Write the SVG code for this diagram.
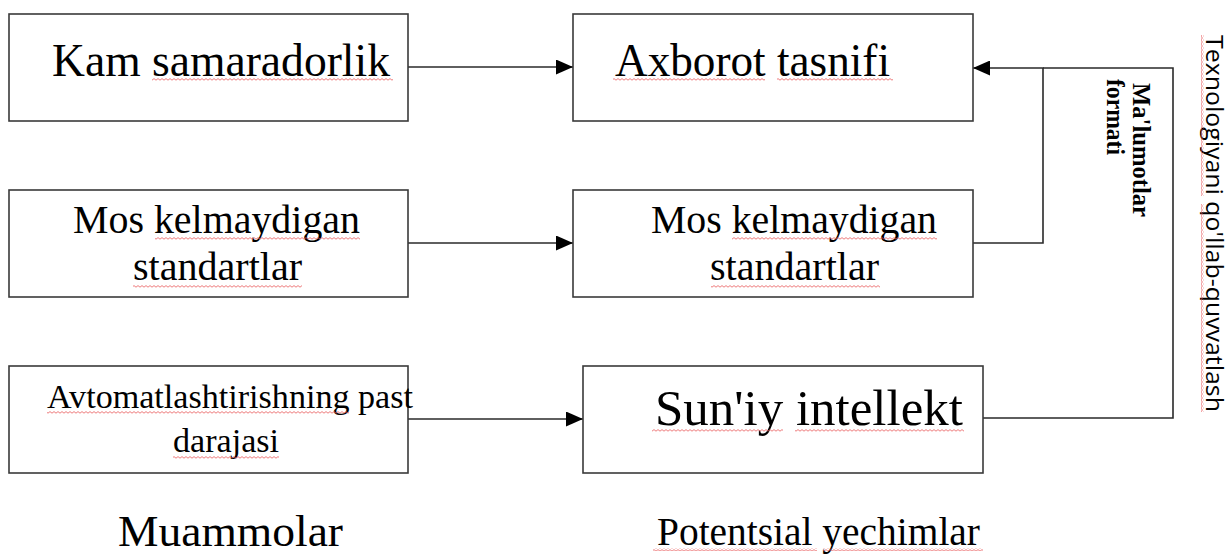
<svg xmlns="http://www.w3.org/2000/svg" width="1230" height="556" viewBox="0 0 1230 556">
<defs>
<style>
.box{fill:#fff;stroke:#3a3a3a;stroke-width:1.6}
.t{font-family:"Liberation Serif","Times New Roman",serif;fill:#000}
.b{font-weight:bold}
.s{font-family:"Open Sans","Liberation Sans",sans-serif;fill:#000}
.ln{fill:none;stroke:#2a2a2a;stroke-width:1.6}
.sqh{fill:url(#sqh)}
.sqv{fill:url(#sqv)}
</style>
<marker id="ah" markerUnits="userSpaceOnUse" viewBox="0 0 17 15" markerWidth="17" markerHeight="15" refX="17" refY="7.5" orient="auto"><path d="M0,0 L17,7.5 L0,15 z" fill="#000"/></marker>
<pattern id="sqh" width="4" height="3" patternUnits="userSpaceOnUse"><path d="M0,2.2 L2,0.6 L4,2.2" fill="none" stroke="#e8595b" stroke-width="0.8"/></pattern>
<pattern id="sqv" width="3" height="4" patternUnits="userSpaceOnUse"><path d="M0.8,0 L2.4,2 L0.8,4" fill="none" stroke="#e8595b" stroke-width="0.8"/></pattern>
</defs>
<rect width="1230" height="556" fill="#fff"/>

<g id="connectors">
<path class="ln" d="M408,67 H573" marker-end="url(#ah)"/>
<path class="ln" d="M408,243 H573" marker-end="url(#ah)"/>
<path class="ln" d="M408,419 H583" marker-end="url(#ah)"/>
<path class="ln" d="M973,243 H1043 V68 H973" marker-end="url(#ah)"/>
<path class="ln" d="M983,418 H1173 V68 H1043"/>
</g>

<g id="n1">
<rect class="box" x="9" y="14" width="399" height="107"/>
<text class="t" x="52" y="76" font-size="46" textLength="338" lengthAdjust="spacingAndGlyphs">Kam samaradorlik</text>
<rect class="sqh" x="152" y="78" width="241" height="3"/>
</g>

<g id="n2">
<rect class="box" x="9" y="190" width="399" height="107"/>
<text class="t" x="73" y="233" font-size="40" textLength="287" lengthAdjust="spacingAndGlyphs">Mos kelmaydigan</text>
<text class="t" x="133" y="280" font-size="40" textLength="169" lengthAdjust="spacingAndGlyphs">standartlar</text>
<rect class="sqh" x="155" y="237" width="205" height="3"/>
<rect class="sqh" x="133" y="285" width="169" height="3"/>
</g>

<g id="n3">
<rect class="box" x="9" y="366" width="399" height="107"/>
<text class="t" x="47" y="408" font-size="34" textLength="366" lengthAdjust="spacingAndGlyphs">Avtomatlashtirishning past</text>
<text class="t" x="173" y="452" font-size="34" textLength="106" lengthAdjust="spacingAndGlyphs">darajasi</text>
<rect class="sqh" x="47" y="411" width="302" height="3"/>
<rect class="sqh" x="173" y="456" width="106" height="3"/>
</g>

<g id="n4">
<rect class="box" x="573" y="14" width="400" height="107"/>
<text class="t" x="615" y="76" font-size="47" textLength="275" lengthAdjust="spacingAndGlyphs">Axborot tasnifi</text>
<rect class="sqh" x="613" y="78" width="152" height="3"/>
<rect class="sqh" x="777" y="78" width="116" height="3"/>
</g>

<g id="n5">
<rect class="box" x="573" y="190" width="400" height="107"/>
<text class="t" x="651" y="233" font-size="40" textLength="286" lengthAdjust="spacingAndGlyphs">Mos kelmaydigan</text>
<text class="t" x="710" y="280" font-size="40" textLength="169" lengthAdjust="spacingAndGlyphs">standartlar</text>
<rect class="sqh" x="732" y="237" width="205" height="3"/>
<rect class="sqh" x="711" y="285" width="169" height="3"/>
</g>

<g id="n6">
<rect class="box" x="583" y="366" width="400" height="107"/>
<text class="t" x="655" y="425" font-size="50" textLength="308" lengthAdjust="spacingAndGlyphs">Sun'iy intellekt</text>
<rect class="sqh" x="652" y="429" width="131" height="3"/>
<rect class="sqh" x="795" y="429" width="169" height="3"/>
</g>

<g id="label-format">
<text class="t b" transform="translate(1133,83) rotate(90)" font-size="25" textLength="134" lengthAdjust="spacingAndGlyphs">Ma'lumotlar</text>
<text class="t b" transform="translate(1107,79) rotate(90)" font-size="25" textLength="76" lengthAdjust="spacingAndGlyphs">formati</text>
</g>

<g id="label-support">
<text class="s" transform="translate(1206,35) rotate(90)" font-size="23" textLength="377" lengthAdjust="spacingAndGlyphs">Texnologiyani qo'llab-quvvatlash</text>
<rect class="sqv" x="1201" y="35" width="3" height="161"/>
<rect class="sqv" x="1201" y="204" width="3" height="208"/>
</g>

<g id="caption-left">
<text class="t" x="118" y="546" font-size="44" textLength="225" lengthAdjust="spacingAndGlyphs">Muammolar</text>
</g>

<g id="caption-right">
<text class="t" x="657" y="545" font-size="39" textLength="323" lengthAdjust="spacingAndGlyphs">Potentsial yechimlar</text>
<rect class="sqh" x="653" y="548" width="164" height="3"/>
<rect class="sqh" x="823" y="548" width="160" height="3"/>
</g>
</svg>
